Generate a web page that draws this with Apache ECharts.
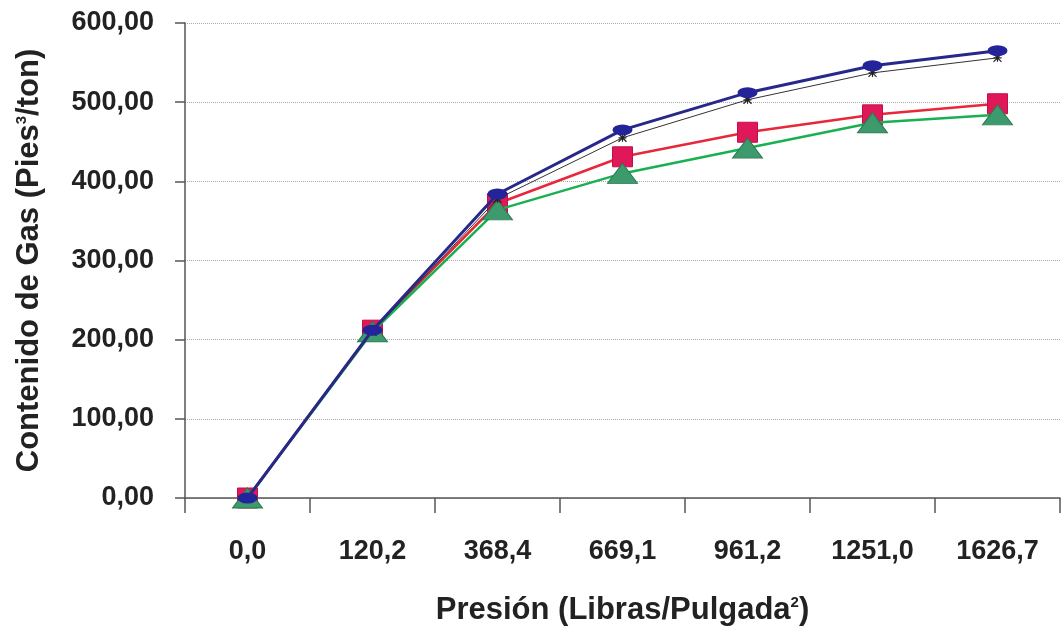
<!DOCTYPE html>
<html>
<head>
<meta charset="utf-8">
<script src="https://cdn.jsdelivr.net/npm/echarts@6/dist/echarts.min.js"></script>
<style>
html,body{margin:0;padding:0;background:#fff;}
#chart{width:1061px;height:627px;}
</style>
</head>
<body>
<div id="chart"></div>
<script>
var categories = ['0,0','120,2','368,4','669,1','961,2','1251,0','1626,7'];
var seriesBlue  = [0, 212, 384, 465, 512, 546, 565];
var seriesBlack = [0, 210, 378, 455, 503, 537, 556];
var seriesRed   = [0, 212, 372, 431, 462, 484, 498];
var seriesGreen = [0, 210, 364, 410, 442, 474, 484];
var yTicks = [0, 100, 200, 300, 400, 500, 600];

var chart = echarts.init(document.getElementById('chart'));
var font = 'Liberation Sans, Arial, sans-serif';
function fmt(v){ return v.toFixed(2).replace('.', ','); }

chart.setOption({
  animation: false,
  backgroundColor: '#ffffff',
  grid: {left: 185, right: 1, top: 23, bottom: 129, containLabel: false, outerBoundsMode: 'none'},
  xAxis: {
    type: 'category',
    data: categories,
    boundaryGap: true,
    axisLine: {show: true, lineStyle: {color: '#555', width: 1.5}},
    axisTick: {show: true, alignWithLabel: false, length: 15, inside: false, lineStyle: {color: '#555', width: 1.5}},
    axisLabel: {margin: 40, color: '#222', fontFamily: font, fontWeight: 'bold', fontSize: 27},
    splitLine: {show: false},
    name: 'Presión (Libras/Pulgada{sup|2})',
    nameLocation: 'middle',
    nameGap: 97,
    nameTextStyle: {
      color: '#222', fontFamily: font, fontWeight: 'bold', fontSize: 31,
      rich: {sup: {fontSize: 15, fontFamily: font, fontWeight: 'bold', color: '#222', verticalAlign: 'top', padding: [0,0,16,0]}}
    }
  },
  yAxis: {
    type: 'value',
    min: 0, max: 600, interval: 100,
    axisLine: {show: true, lineStyle: {color: '#555', width: 1.5}},
    axisTick: {show: true, length: 10, lineStyle: {color: '#555', width: 1.5}},
    axisLabel: {margin: 31, color: '#222', fontFamily: font, fontWeight: 'bold', fontSize: 27,
      formatter: function(v){ return yTicks.indexOf(v) >= 0 ? fmt(v) : ''; }},
    splitLine: {show: true, lineStyle: {color: '#aaa', type: 'dotted', width: 1}},
    name: 'Contenido de Gas (Pies{sup|3}/ton)',
    nameLocation: 'middle',
    nameGap: 140,
    nameRotate: 90,
    nameTextStyle: {
      color: '#222', fontFamily: font, fontWeight: 'bold', fontSize: 31,
      rich: {sup: {fontSize: 15, fontFamily: font, fontWeight: 'bold', color: '#222', verticalAlign: 'top', padding: [0,0,16,0]}}
    }
  },
  series: [
    {
      name: 'Rojo', type: 'line', data: seriesRed, z: 2,
      symbol: 'rect', symbolSize: [20, 20],
      lineStyle: {color: '#e8283a', width: 2.5},
      itemStyle: {color: '#e0185a', borderColor: '#c01048', borderWidth: 1}
    },
    {
      name: 'Verde', type: 'line', data: seriesGreen, z: 3,
      symbol: 'triangle', symbolSize: [30, 20],
      lineStyle: {color: '#18b050', width: 2.5},
      itemStyle: {color: '#3d9a6c', borderColor: '#2a7a52', borderWidth: 1}
    },
    {
      name: 'Negro', type: 'line', data: seriesBlack, z: 4,
      symbol: 'path://M0,0L10,10M10,0L0,10M5,0L5,10M0,5L10,5', symbolSize: [8, 8],
      lineStyle: {color: '#333', width: 1},
      itemStyle: {color: 'none', borderColor: '#222', borderWidth: 1.2}
    },
    {
      name: 'Azul', type: 'line', data: seriesBlue, z: 5,
      symbol: 'circle', symbolSize: [20, 11],
      lineStyle: {color: '#28288a', width: 3},
      itemStyle: {color: '#23239a', borderColor: '#23239a', borderWidth: 0}
    }
  ]
});
</script>
</body>
</html>
